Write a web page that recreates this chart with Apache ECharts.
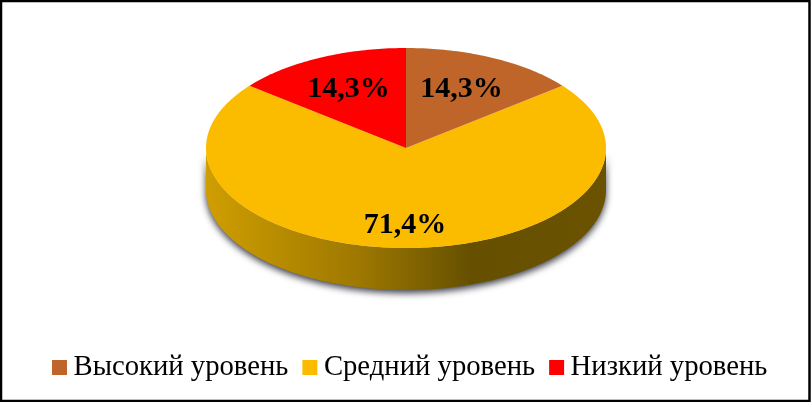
<!DOCTYPE html>
<html><head><meta charset="utf-8">
<style>html,body{margin:0;padding:0;background:#fff}#c{width:812px;height:402px}</style>
<script src="https://cdn.jsdelivr.net/npm/echarts@6/dist/echarts.min.js"></script>
</head><body><div id="c"></div>
<script>
var categories = ['Высокий уровень', 'Средний уровень', 'Низкий уровень'];
var values = [14.3, 71.4, 14.3];
var sliceColors = ['#C0652A', '#FBBC00', '#FF0000'];
var labelRadius = [0.65, 0.77, 0.65];
var DEPTH = 0.42;
var total = values.reduce(function (a, b) { return a + b; }, 0);

var chart = echarts.init(document.getElementById('c'), null, { renderer: 'canvas' });

function sliceRange(i) {
  var before = 0;
  for (var k = 0; k < i; k++) before += values[k];
  return [before / total * 360, (before + values[i]) / total * 360];
}
function rim(api, deg, drop) {
  var r = deg * Math.PI / 180;
  return api.coord([Math.sin(r), Math.cos(r) - (drop || 0)]);
}
function arc(api, from, to, drop) {
  var pts = [], n = Math.max(2, Math.ceil(Math.abs(to - from)));
  for (var j = 0; j <= n; j++) pts.push(rim(api, from + (to - from) * j / n, drop));
  return pts;
}
function makeRender(i) {
  return function (params, api) {
    var v = api.value(0);
    var range = sliceRange(i);
    var children = [];
    var a = Math.max(range[0], 90), b = Math.min(range[1], 270);
    if (b > a) {
      children.push({
        type: 'polygon',
        shape: { points: arc(api, a, b, 0).concat(arc(api, b, a, DEPTH)) },
        style: {
          fill: new echarts.graphic.LinearGradient(0, 0, 1, 0, [
            { offset: 0, color: '#CF9E00' },
            { offset: 0.38, color: '#9E7800' },
            { offset: 0.66, color: '#665000' },
            { offset: 1, color: '#6A5200' }
          ]),
          shadowBlur: 7, shadowOffsetY: 3, shadowColor: 'rgba(25,25,40,0.85)'
        }
      });
    }
    children.push({
      type: 'polygon',
      shape: { points: [api.coord([0, 0])].concat(arc(api, range[0], range[1], 0)) },
      style: { fill: sliceColors[i] }
    });
    var mid = (range[0] + range[1]) / 2 * Math.PI / 180;
    var p = api.coord([Math.sin(mid) * labelRadius[i], Math.cos(mid) * labelRadius[i]]);
    children.push({
      type: 'text',
      style: {
        x: p[0] - 1, y: p[1], text: v.toFixed(1).replace('.', ',') + '%',
        fill: '#000', align: 'center', verticalAlign: 'middle',
        font: 'bold 30px "Liberation Serif"'
      }
    });
    return { type: 'group', children: children };
  };
}

chart.setOption({
  animation: false,
  backgroundColor: '#fff',
  grid: { left: 206, right: 206, top: 48, bottom: 112 },
  xAxis: { type: 'value', min: -1, max: 1, show: false },
  yAxis: { type: 'value', min: -1 - DEPTH, max: 1, show: false },
  legend: {
    data: categories, left: 47, top: 348, itemWidth: 15, itemHeight: 15, itemGap: 14,
    icon: 'rect',
    textStyle: { fontFamily: 'Liberation Serif', fontSize: 28.7, color: '#000', padding: [0, 0, 0, 1.5] }
  },
  graphic: [{
    type: 'rect', silent: true, z: 100,
    shape: { x: 1, y: 1, width: 808.5, height: 400 },
    style: { fill: 'none', stroke: '#000', lineWidth: 2.5 }
  }],
  series: categories.map(function (name, i) {
    return {
      type: 'custom', name: name, coordinateSystem: 'cartesian2d', clip: false,
      z: i === 1 ? 1 : 2,
      itemStyle: { color: sliceColors[i] },
      renderItem: makeRender(i),
      encode: { x: 0 },
      data: [[values[i]]]
    };
  })
});
</script></body></html>
